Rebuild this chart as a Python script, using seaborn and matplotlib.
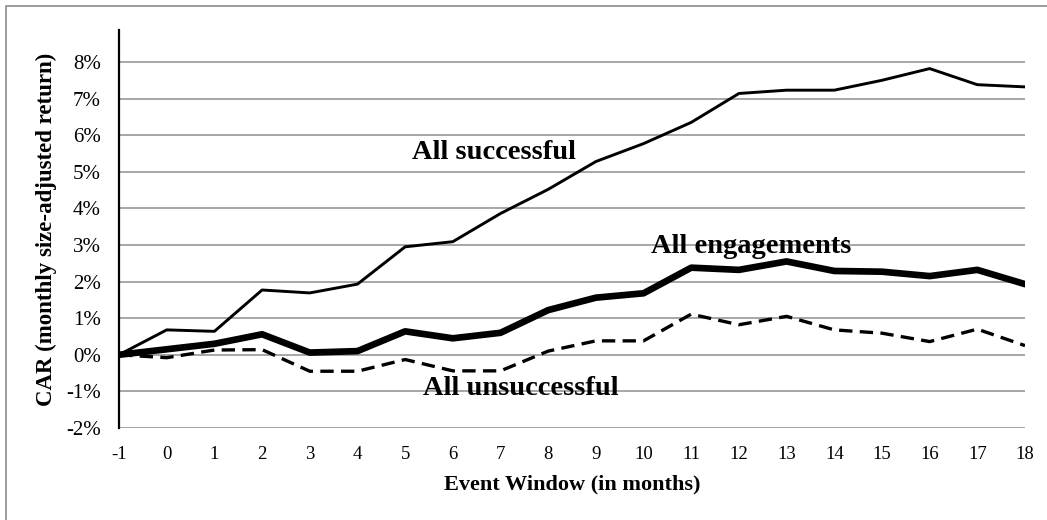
import matplotlib
matplotlib.use("Agg")
import matplotlib.pyplot as plt
import matplotlib.patches as patches
import numpy as np
import pandas as pd
import seaborn as sns

# event window months
months = list(range(-1, 19))

# CAR values in percent
all_successful = [0.0, 0.68, 0.64, 1.77, 1.69, 1.93, 2.95, 3.09, 3.86, 4.52,
                  5.28, 5.77, 6.35, 7.14, 7.23, 7.23, 7.5, 7.82, 7.38, 7.32]
all_engagements = [0.0, 0.15, 0.3, 0.56, 0.06, 0.1, 0.64, 0.45, 0.6, 1.22,
                   1.56, 1.68, 2.38, 2.32, 2.55, 2.29, 2.27, 2.15, 2.32, 1.93]
all_unsuccessful = [0.0, -0.08, 0.13, 0.14, -0.45, -0.45, -0.13, -0.44, -0.44, 0.1,
                    0.38, 0.38, 1.11, 0.82, 1.05, 0.68, 0.59, 0.36, 0.7, 0.25]

y_ticks = list(range(-2, 9))

df = pd.DataFrame({
    "month": months,
    "All successful": all_successful,
    "All engagements": all_engagements,
    "All unsuccessful": all_unsuccessful,
})

sns.set_style("white")
plt.rcParams["font.family"] = ["Liberation Serif", "DejaVu Serif"]
plt.rcParams["axes.unicode_minus"] = False
# plain black text like the original
for key in ["text.color", "axes.labelcolor", "xtick.color", "ytick.color"]:
    plt.rcParams[key] = "black"

fig = plt.figure(figsize=(10.47, 5.2), dpi=100)
ax = fig.add_axes([0.1137, 0.177, 0.979 - 0.1137, 0.942 - 0.177])

# outer frame (right/bottom edges run off the image, as in the reference)
fig.patches.append(patches.Rectangle((6 / 1047, -0.05), 1.2, 1 - 6 / 520 + 0.05,
                                     transform=fig.transFigure, fill=False,
                                     edgecolor="#8a8a8a", linewidth=1.2))

for yv in y_ticks:
    ax.axhline(yv, color="#a6a6a6", linewidth=1.4, zorder=0)

sns.lineplot(data=df, x="month", y="All successful", ax=ax, color="black",
             linewidth=2.1)
sns.lineplot(data=df, x="month", y="All engagements", ax=ax, color="black",
             linewidth=4.8)
sns.lineplot(data=df, x="month", y="All unsuccessful", ax=ax, color="black",
             linewidth=2.4, linestyle=(0, (4, 2.2)))

ax.set_xlim(-1, 18)
ax.set_ylim(-2, 8.87)
ax.set_xticks(months)
ax.set_yticks(y_ticks)
ax.set_yticklabels([f"{v}%" for v in y_ticks])
ax.tick_params(axis="both", length=0)
ax.tick_params(axis="y", pad=13, labelsize=15)
ax.tick_params(axis="x", pad=13, labelsize=13.5)

for side in ["top", "right", "bottom"]:
    ax.spines[side].set_visible(False)
ax.spines["left"].set_color("black")
ax.spines["left"].set_linewidth(1.6)

ax.set_xlabel("Event Window (in months)", fontsize=16, fontweight="bold",
              labelpad=8)
ax.set_ylabel("CAR (monthly size-adjusted return)", fontsize=16.5,
              fontweight="bold", labelpad=7)

lab_kw = dict(fontsize=20.5, fontweight="bold", ha="center", va="center")
ax.text(6.86, 5.52, "All successful", **lab_kw)
ax.text(12.25, 2.95, "All engagements", **lab_kw)
ax.text(7.43, -0.93, "All unsuccessful", **lab_kw)

fig.savefig("out.png", dpi=100)
